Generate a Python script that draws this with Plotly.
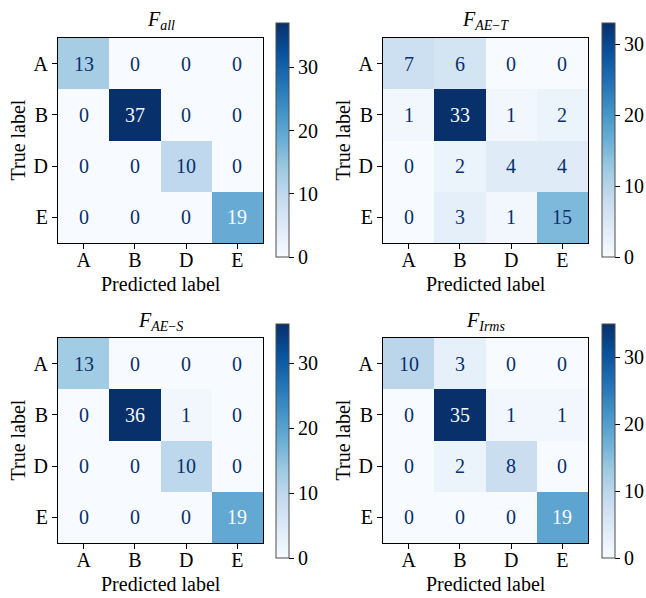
import plotly.graph_objects as go

# Class labels shared by every confusion matrix
labels = ["A", "B", "D", "E"]

# Confusion matrices (rows = true label, columns = predicted label)
cm_all = [[13, 0, 0, 0],
          [0, 37, 0, 0],
          [0, 0, 10, 0],
          [0, 0, 0, 19]]
cm_ae_t = [[7, 6, 0, 0],
           [1, 33, 1, 2],
           [0, 2, 4, 4],
           [0, 3, 1, 15]]
cm_ae_s = [[13, 0, 0, 0],
           [0, 36, 1, 0],
           [0, 0, 10, 0],
           [0, 0, 0, 19]]
cm_irms = [[10, 3, 0, 0],
           [0, 35, 1, 1],
           [0, 2, 8, 0],
           [0, 0, 0, 19]]

titles = [
    "<i>F</i><sub><i>all</i></sub>",
    "<i>F</i><sub><i>AE</i>\u2212<i>T</i></sub>",
    "<i>F</i><sub><i>AE</i>\u2212<i>S</i></sub>",
    "<i>F</i><sub><i>Irms</i></sub>",
]
matrices = [cm_all, cm_ae_t, cm_ae_s, cm_irms]
colorbar_ticks = [0, 10, 20, 30]

W, H = 646, 598
FONT = "Liberation Serif"
FS = 20
FS_LABEL = 20

# matplotlib "Blues"
blues = ['rgb(247,251,255)', 'rgb(222,235,247)', 'rgb(198,219,239)',
         'rgb(158,202,225)', 'rgb(107,174,214)', 'rgb(66,146,198)',
         'rgb(33,113,181)', 'rgb(8,81,156)', 'rgb(8,48,107)']
scale = [[i / (len(blues) - 1), c] for i, c in enumerate(blues)]
dark_text = 'rgb(8,48,107)'
light_text = 'rgb(247,251,255)'

# panel geometry in pixels: heatmap box (left, top) and colorbar (left, top)
panels = [
    dict(hx=58, hy=38, cbx=275.5, cby=23),
    dict(hx=383, hy=38, cbx=601.5, cby=23),
    dict(hx=58, hy=338, cbx=275.5, cby=324),
    dict(hx=383, hy=338, cbx=601.5, cby=324),
]
SIZE = 205
CB_LEN = 234
CB_THICK = 13


def px(x):
    return x / W


def py(y):
    return 1 - y / H


fig = go.Figure()
annotations = []

for k, (cm, title, p) in enumerate(zip(matrices, titles, panels)):
    n = k + 1
    xa = "x" if n == 1 else f"x{n}"
    ya = "y" if n == 1 else f"y{n}"
    zmax = max(max(r) for r in cm)
    zmin = min(min(r) for r in cm)

    fig.add_trace(go.Heatmap(
        z=cm, x=labels, y=labels, xaxis=xa, yaxis=ya,
        colorscale=scale, zmin=zmin, zmax=zmax,
        hoverinfo="skip",
        colorbar=dict(
            x=px(p["cbx"]), xanchor="left", xpad=0,
            y=py(p["cby"]), yanchor="top", ypad=0,
            len=CB_LEN, lenmode="pixels",
            thickness=CB_THICK, thicknessmode="pixels",
            outlinecolor="#4d4d4d", outlinewidth=1,
            tickmode="array", tickvals=colorbar_ticks,
            ticks="outside", ticklen=5, tickwidth=1, tickcolor="black",
            tickfont=dict(family=FONT, size=FS, color="black"),
        ),
    ))

    x0, x1 = px(p["hx"]), px(p["hx"] + SIZE)
    y0, y1 = py(p["hy"] + SIZE), py(p["hy"])
    axis_common = dict(
        showline=True, mirror=True, linecolor="black", linewidth=1,
        ticks="outside", ticklen=5, tickwidth=1, tickcolor="black",
        showgrid=False, zeroline=False,
        tickfont=dict(family=FONT, size=FS, color="black"),
    )
    fig.update_layout({
        ("xaxis" if n == 1 else f"xaxis{n}"): dict(
            domain=[x0, x1], anchor=ya, type="category",
            categoryorder="array", categoryarray=labels,
            ticklabelstandoff=-6, **axis_common),
        ("yaxis" if n == 1 else f"yaxis{n}"): dict(
            domain=[y0, y1], anchor=xa, type="category",
            categoryorder="array", categoryarray=labels,
            autorange="reversed", **axis_common),
    })

    # cell values, light text on dark cells like sklearn's display
    thresh = (zmax + zmin) / 2
    for i, row in enumerate(cm):
        for j, v in enumerate(row):
            annotations.append(dict(
                x=labels[j], y=labels[i], xref=xa, yref=ya,
                text=str(v), showarrow=False,
                font=dict(family=FONT, size=FS,
                          color=light_text if v > thresh else dark_text),
            ))

    cx = p["hx"] + SIZE / 2
    cy = p["hy"] + SIZE / 2
    # panel title
    annotations.append(dict(
        x=px(cx), y=py(p["hy"] - 17), xref="paper", yref="paper",
        text=title, showarrow=False, xanchor="center", yanchor="middle",
        font=dict(family=FONT, size=FS, color="black"),
    ))
    # x axis title
    annotations.append(dict(
        x=px(cx), y=py(p["hy"] + SIZE + 41), xref="paper", yref="paper",
        text="Predicted label", showarrow=False, xanchor="center", yanchor="middle",
        font=dict(family=FONT, size=FS_LABEL, color="black"),
    ))
    # y axis title
    annotations.append(dict(
        x=px(p["hx"] - 41), y=py(cy), xref="paper", yref="paper",
        text="True label", showarrow=False, textangle=-90,
        xanchor="center", yanchor="middle",
        font=dict(family=FONT, size=FS_LABEL, color="black"),
    ))

fig.update_layout(
    width=W, height=H,
    margin=dict(l=0, r=0, t=0, b=0),
    paper_bgcolor="white", plot_bgcolor="white",
    font=dict(family=FONT, size=FS, color="black"),
    annotations=annotations,
    showlegend=False,
)

fig.write_html("out.html")
